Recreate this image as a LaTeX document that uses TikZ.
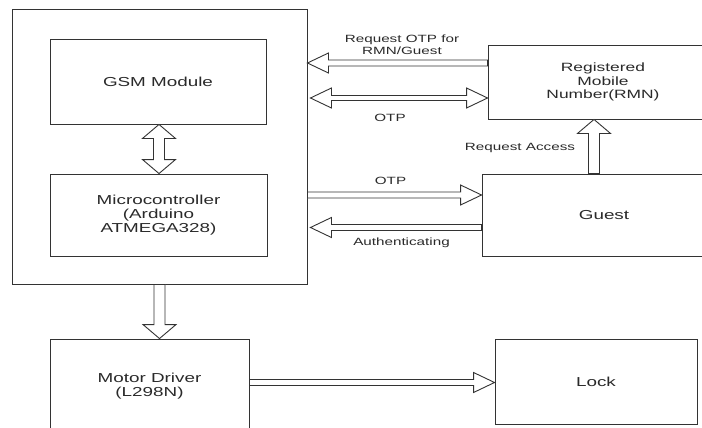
\documentclass[tikz,border=0pt]{standalone}
\usepackage{fontspec}
\setmainfont[FakeStretch=1.45]{Liberation Sans}
\usetikzlibrary{calc}
\definecolor{ln}{HTML}{333333}
\definecolor{tx}{HTML}{2a2a2a}
\tikzset{
  box/.style={draw=ln, line width=0.9pt, fill=white, inner sep=0pt, align=center, text=tx,
    font=\fontsize{13}{14}\selectfont},
  lbl/.style={text=tx, align=center, inner sep=0pt, font=\fontsize{10.5}{12.4}\selectfont},
  fatone/.style n args={3}{draw=ln, line width=0.9pt, fill=white, line join=miter, to path={
    ($(\tikztostart)!#1!90:(\tikztotarget)$)
    -- ($($(\tikztotarget)!#3!(\tikztostart)$)!#1!90:(\tikztotarget)$)
    -- ($($(\tikztotarget)!#3!(\tikztostart)$)!#2!90:(\tikztotarget)$)
    -- (\tikztotarget)
    -- ($($(\tikztotarget)!#3!(\tikztostart)$)!#2!-90:(\tikztotarget)$)
    -- ($($(\tikztotarget)!#3!(\tikztostart)$)!#1!-90:(\tikztotarget)$)
    -- ($(\tikztostart)!#1!-90:(\tikztotarget)$) -- cycle}},
  fattwo/.style n args={3}{draw=ln, line width=0.9pt, fill=white, line join=miter, to path={
    (\tikztostart)
    -- ($($(\tikztostart)!#3!(\tikztotarget)$)!#2!90:(\tikztotarget)$)
    -- ($($(\tikztostart)!#3!(\tikztotarget)$)!#1!90:(\tikztotarget)$)
    -- ($($(\tikztotarget)!#3!(\tikztostart)$)!#1!90:(\tikztotarget)$)
    -- ($($(\tikztotarget)!#3!(\tikztostart)$)!#2!90:(\tikztotarget)$)
    -- (\tikztotarget)
    -- ($($(\tikztotarget)!#3!(\tikztostart)$)!#2!-90:(\tikztotarget)$)
    -- ($($(\tikztotarget)!#3!(\tikztostart)$)!#1!-90:(\tikztotarget)$)
    -- ($($(\tikztostart)!#3!(\tikztotarget)$)!#1!-90:(\tikztotarget)$)
    -- ($($(\tikztostart)!#3!(\tikztotarget)$)!#2!-90:(\tikztotarget)$)
    -- cycle}},
  hfat/.style={fatone={3pt}{10pt}{21pt}},
  vfat/.style={fatone={5.5pt}{16.5pt}{14pt}},
  hdbl/.style={fattwo={2.5pt}{10pt}{21pt}},
  vdbl/.style={fattwo={5.5pt}{16.5pt}{14pt}}
}
\begin{document}
\begin{tikzpicture}[x=1pt, y=-1pt]
\useasboundingbox (0,0) rectangle (702,428);
\fill[white] (0,0) rectangle (702,428);

\node[box, minimum width=295pt, minimum height=275pt] (outer) at (159.5,146.5) {};
\node[box, minimum width=216pt, minimum height=85pt] (gsm) at (158,81.5) {GSM Module};
\node[box, minimum width=217pt, minimum height=82pt] (mcu) at (158.5,215) {Microcontroller\\(Arduino\\ATMEGA328)};
\node[box, minimum width=230pt, minimum height=74pt, font=\fontsize{12}{13.5}\selectfont] (rmn) at (603,82) {Registered\\Mobile\\Number(RMN)};
\node[box, minimum width=244pt, minimum height=82pt] (guest) at (604,215) {Guest};
\node[box, minimum width=199pt, minimum height=94pt] (motor) at (149.5,386) {Motor Driver\\(L298N)};
\node[box, minimum width=202pt, minimum height=85pt] (lock) at (596,381.5) {Lock};

% connector end points
\coordinate (qa) at ([yshift=19pt]rmn.west);
\coordinate (qb) at (outer.east |- qa);
\coordinate (oa) at ([yshift=-16pt]rmn.west);
\coordinate (ob) at ($(outer.east |- oa)+(3,0)$);
\coordinate (pa) at ([yshift=20pt]guest.west);
\coordinate (pb) at (outer.east |- pa);
\coordinate (ua) at ([yshift=-12.5pt]guest.west);
\coordinate (ub) at ($(outer.east |- ua)+(3,0)$);
\coordinate (ga) at ([xshift=-10pt]guest.north);
\coordinate (gb) at (rmn.south -| ga);
\coordinate (sa) at ([xshift=1pt]gsm.south);
\coordinate (sb) at (mcu.north -| sa);
\coordinate (da) at (outer.south);
\coordinate (db) at (motor.north -| da);
\coordinate (ma) at ([yshift=3.5pt]motor.east);
\coordinate (mb) at (lock.west |- ma);

\draw[hfat] (qa) to (qb);
\draw[hdbl] (ob) to (oa);
\draw[hfat] (pb) to (pa);
\draw[hfat] (ua) to (ub);
\draw[vfat] (ga) to (gb);
\draw[vdbl] (sa) to (sb);
\draw[vfat] (da) to (db);
\draw[hfat] (ma) to (mb);

\node[lbl] (l1) at (402,44.5) {Request OTP for\\RMN/Guest};
\node[lbl] (l2) at (390,118) {OTP};
\node[lbl] (l3) at (520,148) {Request Access};
\node[lbl] (l4) at (390.5,180.5) {OTP};
\node[lbl] (l5) at (401.5,243) {Authenticating};
\end{tikzpicture}
\end{document}
